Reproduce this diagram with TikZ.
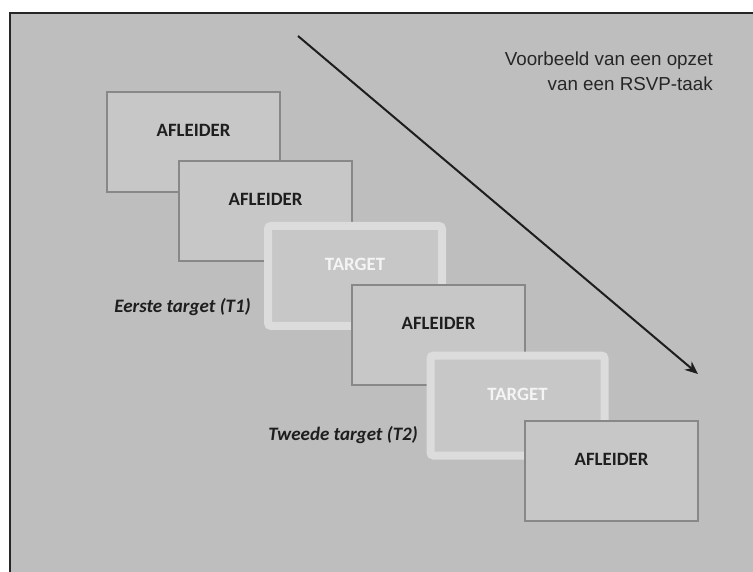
\documentclass[tikz,border=0pt]{standalone}
\usepackage{fontspec}
\newfontfamily\calibri{Carlito}
\newfontfamily\arialf{Liberation Sans}
\usetikzlibrary{arrows.meta}
\definecolor{bggray}{HTML}{BEBEBE}
\definecolor{boxfill}{HTML}{C7C7C7}
\definecolor{boxline}{HTML}{888888}
\definecolor{tgline}{HTML}{DCDCDC}
\definecolor{tgtext}{HTML}{F4F4F4}
\definecolor{txtdark}{HTML}{1E1E1E}
\begin{document}
\begin{tikzpicture}[x=1pt,y=-1pt,
  afbox/.style={draw=boxline, line width=2pt, fill=boxfill, minimum width=173pt, minimum height=100pt, inner sep=0pt,
    label={[font=\calibri\bfseries\fontsize{18.8}{21}\selectfont, text=txtdark, yshift=12pt]center:AFLEIDER}},
  tgbox/.style={draw=tgline, line width=8pt, fill=boxfill, rounded corners=3pt, minimum width=174pt, minimum height=100pt, inner sep=0pt,
    label={[font=\calibri\bfseries\fontsize{18.8}{21}\selectfont, text=tgtext, yshift=11.5pt]center:TARGET}},
  tglabel/.style={font=\calibri\bfseries\itshape\fontsize{19}{21}\selectfont, text=txtdark, inner sep=0pt},
  title/.style={font=\arialf\fontsize{18.8}{22}\selectfont, text=black!85, inner sep=0pt, anchor=east}
]
\useasboundingbox (0,0) rectangle (753,572);
\fill[white] (0,0) rectangle (753,572);
\fill[bggray] (10,13) rectangle (753,572);
\draw[black!85, line width=2.5pt] (10,572) -- (10,13) -- (753,13);

\node[afbox] (b1) at (193.5,142.5) {};
\node[afbox] (b2) at (265.5,211.5) {};
\node[tgbox] (t1) at (355,276) {};
\node[afbox] (b3) at (438.5,335) {};
\node[tgbox] (t2) at (517.5,405.5) {};
\node[afbox] (b4) at (611.5,471) {};

\node[tglabel] (l1) at (182.5,307) {Eerste target (T1)};
\node[tglabel] (l2) at (343,435) {Tweede target (T2)};

\node[title] (h1) at (713,61) {Voorbeeld van een opzet};
\node[title] (h2) at (713,84) {van een RSVP-taak};

\coordinate (as) at (298,36);
\coordinate (ae) at (698,374);
\draw[txtdark, line width=2pt, -{Stealth[length=13pt,width=11pt]}] (as) -- (ae);
\end{tikzpicture}
\end{document}
